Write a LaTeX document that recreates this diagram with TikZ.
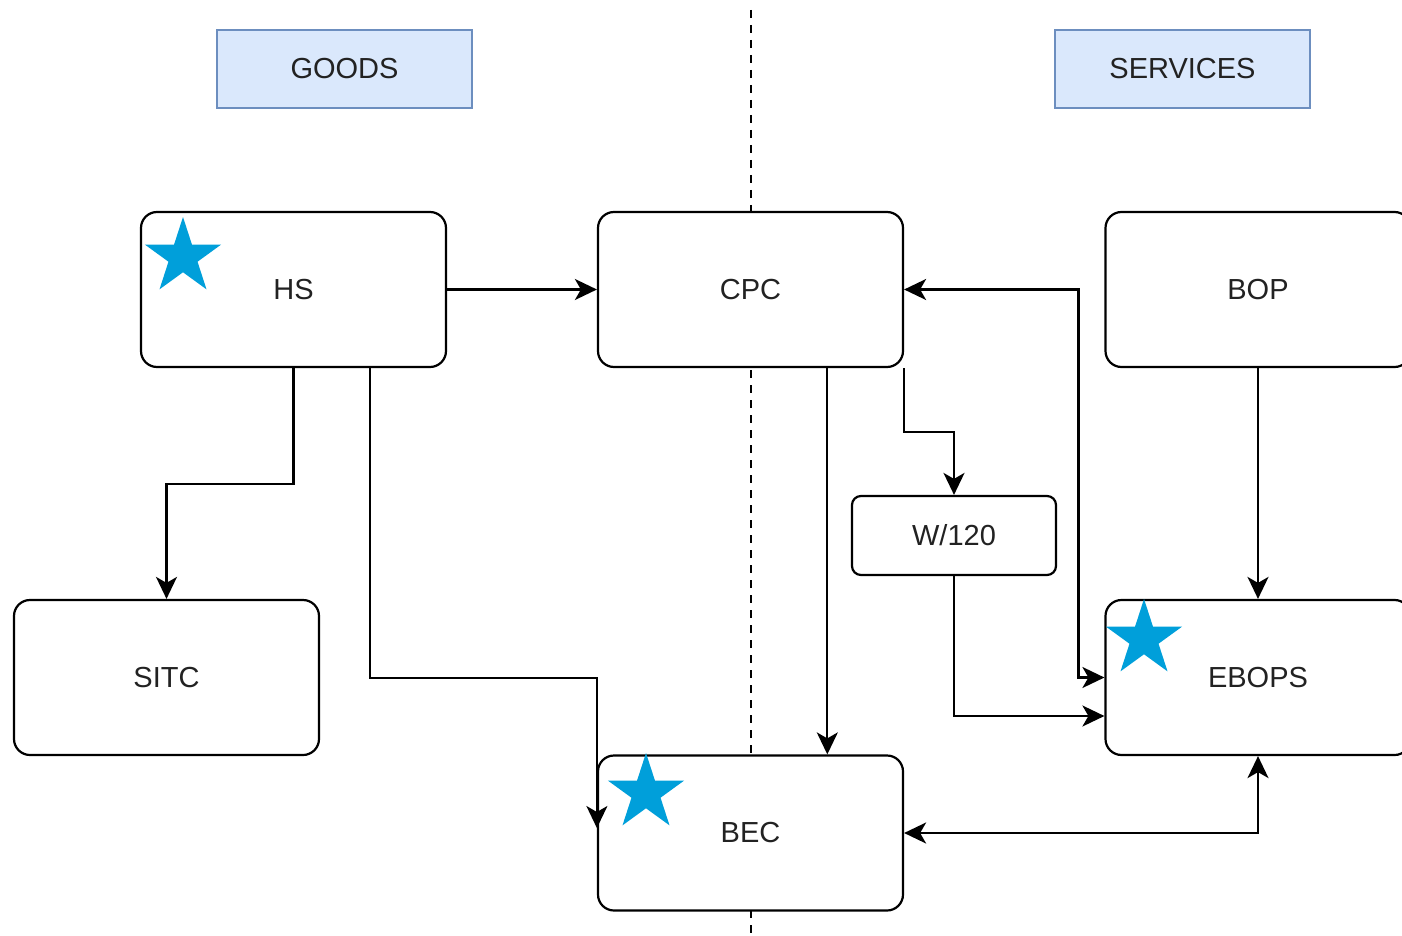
\documentclass[tikz,border=0pt]{standalone}
\usepackage{fontspec}
\setmainfont{Liberation Sans}
\usetikzlibrary{arrows.meta,shapes.geometric,calc}
\definecolor{hdrfill}{HTML}{DAE8FC}
\definecolor{hdrline}{HTML}{6C8EBF}
\definecolor{starblue}{HTML}{009FDA}
\definecolor{txt}{HTML}{222222}
\tikzset{
  lbl/.style={font=\fontsize{29}{34}\selectfont, text=txt},
  hdrbox/.style={lbl, draw=hdrline, fill=hdrfill, line width=2pt, minimum width=255pt, minimum height=78pt, inner sep=0pt},
  bigbox/.style={lbl, draw=black, fill=white, line width=2.2pt, rounded corners=16pt, minimum width=305pt, minimum height=155pt, inner sep=0pt},
  smallbox/.style={lbl, draw=black, fill=white, line width=2.2pt, rounded corners=9pt, minimum width=204pt, minimum height=79pt, inner sep=0pt},
  conn/.style={draw=black, line width=2.2pt, -{Stealth[length=22pt,width=21pt,inset=6pt]}},
  biconn/.style={draw=black, line width=2.2pt, {Stealth[length=22pt,width=21pt,inset=6pt]}-{Stealth[length=22pt,width=21pt,inset=6pt]}},
  starmark/.style={star, star points=5, star point ratio=2.618, fill=starblue, draw=none, inner sep=0pt, minimum size=80pt, shape border rotate=0},
  divider/.style={draw=black, line width=2.2pt, dash pattern=on 8pt off 7pt}
}
\begin{document}
\begin{tikzpicture}[x=1pt,y=-1pt]
\clip (0,0) rectangle (1402,936);
\fill[white] (0,0) rectangle (1402,936);
% divider
\coordinate (dtop) at (751,10);
\coordinate (dbot) at (751,936);
\draw[divider] (dtop) -- (dbot);
% headers
\node[hdrbox] (goods) at (344.5,69) {GOODS};
\node[hdrbox] (services) at (1182.5,69) {SERVICES};
% boxes
\node[bigbox] (HS) at (293.5,289.5) {HS};
\node[bigbox] (CPC) at (750.5,289.5) {CPC};
\node[bigbox] (BOP) at (1258,289.5) {BOP};
\node[bigbox] (SITC) at (166.5,677.5) {SITC};
\node[bigbox] (BEC) at (750.5,833) {BEC};
\node[bigbox] (EBOPS) at (1258,677.5) {EBOPS};
\node[smallbox] (W) at (954,535.5) {W/120};
% stars
\node[starmark] (s1) at (183,257) {};
\node[starmark] (s2) at (646,793) {};
\node[starmark] (s3) at (1144,639) {};
% connectors
\draw[conn] (HS.east) -- (CPC.west);
\draw[conn] (HS.south) -- (HS.south |- 0,484) -| (SITC.north);
\coordinate (hsb) at ($(HS.south west)!0.75!(HS.south east)$);
\coordinate (becl) at ($(BEC.west)+(0,-5)$);
\draw[conn] (hsb) |- (BEC.west |- 0,678) -- (becl);
\draw[conn] ($(CPC.south west)!0.75!(CPC.south east)$) -- ($(BEC.north west)!0.75!(BEC.north east)$);
\draw[conn] (CPC.south east) -- (CPC.south east |- 0,432) -| (W.north);
\coordinate (bend) at ($(EBOPS.west)+(-26,0)$);
\draw[biconn] (CPC.east) -| (bend) -- (EBOPS.west);
\coordinate (ein) at ($(EBOPS.west)+(0,38.5)$);
\draw[conn] (W.south) |- (ein);
\draw[conn] (BOP.south) -- (EBOPS.north);
\draw[biconn] (BEC.east) -| (EBOPS.south);
\end{tikzpicture}
\end{document}
